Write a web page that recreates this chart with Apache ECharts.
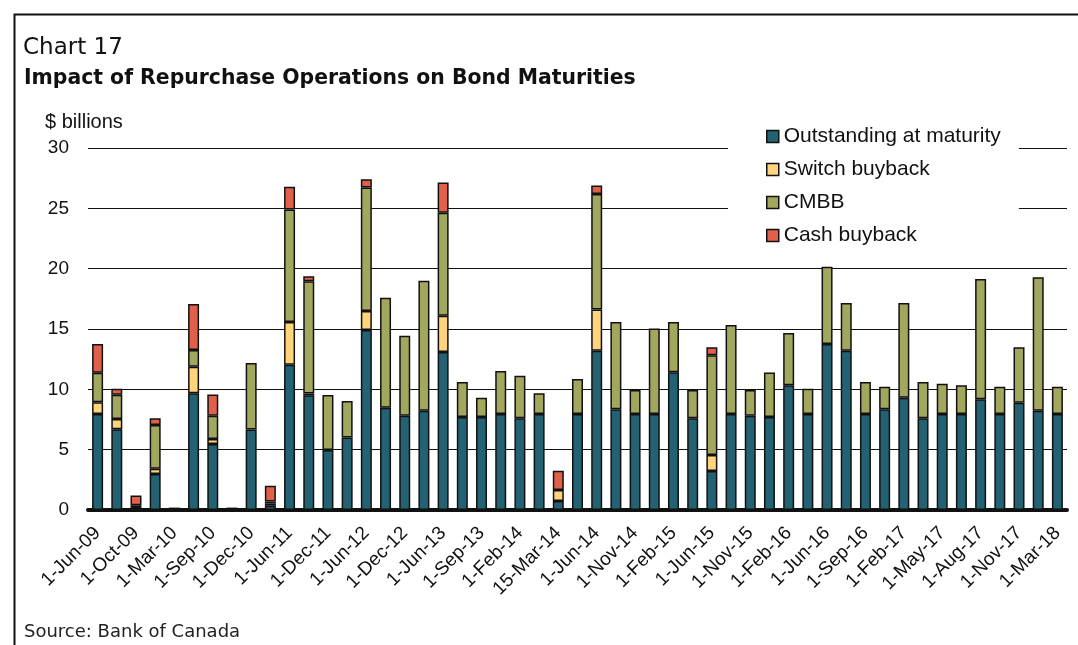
<!DOCTYPE html>
<html>
<head>
<meta charset="utf-8">
<script src="https://cdn.jsdelivr.net/npm/echarts@6/dist/echarts.min.js"></script>
<style>
  html, body { margin: 0; padding: 0; background: #fff; }
  #chart { width: 1078px; height: 645px; }
</style>
</head>
<body>
<div id="chart"></div>
<script>
// maturity dates (every other one is labelled on the axis)
var dates = [
  "1-Jun-09", "1-Sep-09", "1-Oct-09", "1-Dec-09", "1-Mar-10", "1-Jun-10", "1-Sep-10", "1-Nov-10",
  "1-Dec-10", "1-Mar-11", "1-Jun-11", "1-Sep-11", "1-Dec-11", "1-Mar-12", "1-Jun-12", "1-Sep-12",
  "1-Dec-12", "1-Mar-13", "1-Jun-13", "1-Aug-13", "1-Sep-13", "1-Nov-13", "1-Feb-14", "1-Mar-14",
  "15-Mar-14", "1-May-14", "1-Jun-14", "1-Aug-14", "1-Nov-14", "1-Dec-14", "1-Feb-15", "1-May-15",
  "1-Jun-15", "1-Aug-15", "1-Nov-15", "1-Dec-15", "1-Feb-16", "1-May-16", "1-Jun-16", "1-Aug-16",
  "1-Sep-16", "1-Nov-16", "1-Feb-17", "1-Mar-17", "1-May-17", "1-Jun-17", "1-Aug-17", "1-Sep-17",
  "1-Nov-17", "1-Feb-18", "1-Mar-18"
];

var outstanding = [
  7.95, 6.7, 0.15, 2.98, 0.2, 9.67, 5.47, 0.2, 6.68, 0.35,
  12.04, 9.5, 4.97, 6.0, 14.91, 8.48, 7.82, 8.23, 13.09, 7.7,
  7.7, 7.95, 7.6, 7.95, 0.75, 7.95, 13.2, 8.34, 7.95, 7.95,
  11.41, 7.6, 3.23, 7.95, 7.82, 7.7, 10.33, 7.95, 13.75, 13.2,
  7.95, 8.34, 9.31, 7.6, 7.95, 7.95, 9.17, 7.95, 8.89, 8.23, 7.95
];

var switchBuyback = [
  0.97, 0.85, 0.25, 0.44, 0, 2.2, 0.41, 0, 0, 0.2,
  3.54, 0.15, 0, 0, 1.58, 0, 0, 0, 3.0, 0,
  0, 0, 0, 0, 0.91, 0, 3.42, 0, 0, 0,
  0, 0, 1.33, 0, 0, 0, 0, 0, 0, 0,
  0, 0, 0, 0, 0, 0, 0, 0, 0, 0, 0
];

var cmbb = [
  2.46, 2.0, 0, 3.62, 0, 1.38, 1.94, 0, 5.5, 0.15,
  9.33, 9.3, 4.56, 3.03, 10.24, 9.11, 6.62, 10.77, 8.55, 2.9,
  1.6, 3.57, 3.53, 1.72, 0, 2.9, 9.56, 7.24, 1.99, 7.1,
  4.17, 2.34, 8.26, 7.38, 2.12, 3.7, 4.33, 2.1, 6.41, 3.95,
  2.65, 1.88, 7.84, 3.0, 2.52, 2.38, 9.97, 2.27, 4.59, 11.05, 2.27
];

var cashBuyback = [
  2.37, 0.5, 0.8, 0.56, 0, 3.82, 1.76, 0, 0, 1.3,
  1.88, 0.42, 0, 0, 0.69, 0, 0, 0, 2.5, 0,
  0, 0, 0, 0, 1.6, 0, 0.72, 0, 0, 0,
  0, 0, 0.66, 0, 0, 0, 0, 0, 0, 0,
  0, 0, 0, 0, 0, 0, 0, 0, 0, 0, 0
];

var yTicks = { min: 0, max: 30, step: 5 };

// zero segments are skipped so they don't draw an extra border line
function clean(arr) {
  return arr.map(function (v) { return v === 0 ? "-" : v; });
}

function barSeries(name, data, color) {
  return {
    name: name,
    type: "bar",
    stack: "total",
    barWidth: 11,
    data: clean(data),
    itemStyle: { color: color, borderColor: "#111", borderWidth: 1.5 }
  };
}

var myChart = echarts.init(document.getElementById("chart"));

var option = {
  animation: false,
  backgroundColor: "#fff",
  textStyle: { fontFamily: "Liberation Sans" },
  title: [
    { text: "Chart 17", left: 23, top: 37, padding: 0,
      textStyle: { fontFamily: "DejaVu Sans", fontSize: 23, fontWeight: "normal", color: "#111" } },
    { text: "Impact of Repurchase Operations on Bond Maturities", left: 24, top: 69, padding: 0,
      textStyle: { fontFamily: "DejaVu Sans", fontSize: 20.4, fontWeight: "bold", color: "#111" } },
    { text: "$ billions", left: 45, top: 112, padding: 0,
      textStyle: { fontSize: 20, fontWeight: "normal", color: "#111" } },
    { text: "Source: Bank of Canada", left: 24, top: 623, padding: 0,
      textStyle: { fontFamily: "DejaVu Sans", fontSize: 18, fontWeight: "normal", color: "#222" } }
  ],
  graphic: [
    { type: "rect", left: 12, top: 12, shape: { width: 1100, height: 700 },
      style: { fill: "none", stroke: "#111", lineWidth: 2 }, z: -1 }
  ],
  legend: {
    orient: "vertical",
    left: 728,
    top: 122,
    padding: [4, 18, 8, 38],
    backgroundColor: "#fff",
    itemWidth: 12,
    itemHeight: 12,
    itemGap: 12,
    icon: "rect",
    itemStyle: { borderColor: "#111", borderWidth: 1.5 },
    textStyle: { fontSize: 21, color: "#111" },
    data: ["Outstanding at maturity", "Switch buyback", "CMBB", "Cash buyback"],
    z: 10
  },
  grid: { left: 88, right: 11, top: 148, bottom: 135 },
  xAxis: {
    type: "category",
    data: dates,
    axisLine: { lineStyle: { color: "#111", width: 4 } },
    axisTick: { show: false },
    axisLabel: { interval: 1, rotate: 45, fontSize: 19, color: "#111", margin: 20 }
  },
  yAxis: {
    type: "value",
    min: yTicks.min,
    max: yTicks.max,
    interval: yTicks.step,
    axisLine: { show: false },
    axisTick: { show: false },
    axisLabel: { fontSize: 19, color: "#111", margin: 19 },
    splitLine: { lineStyle: { color: "#111", width: 1.2 } }
  },
  series: [
    barSeries("Outstanding at maturity", outstanding, "#226273"),
    barSeries("Switch buyback", switchBuyback, "#ffd47a"),
    barSeries("CMBB", cmbb, "#a3a75d"),
    barSeries("Cash buyback", cashBuyback, "#e0604a")
  ]
};

myChart.setOption(option);
</script>
</body>
</html>
